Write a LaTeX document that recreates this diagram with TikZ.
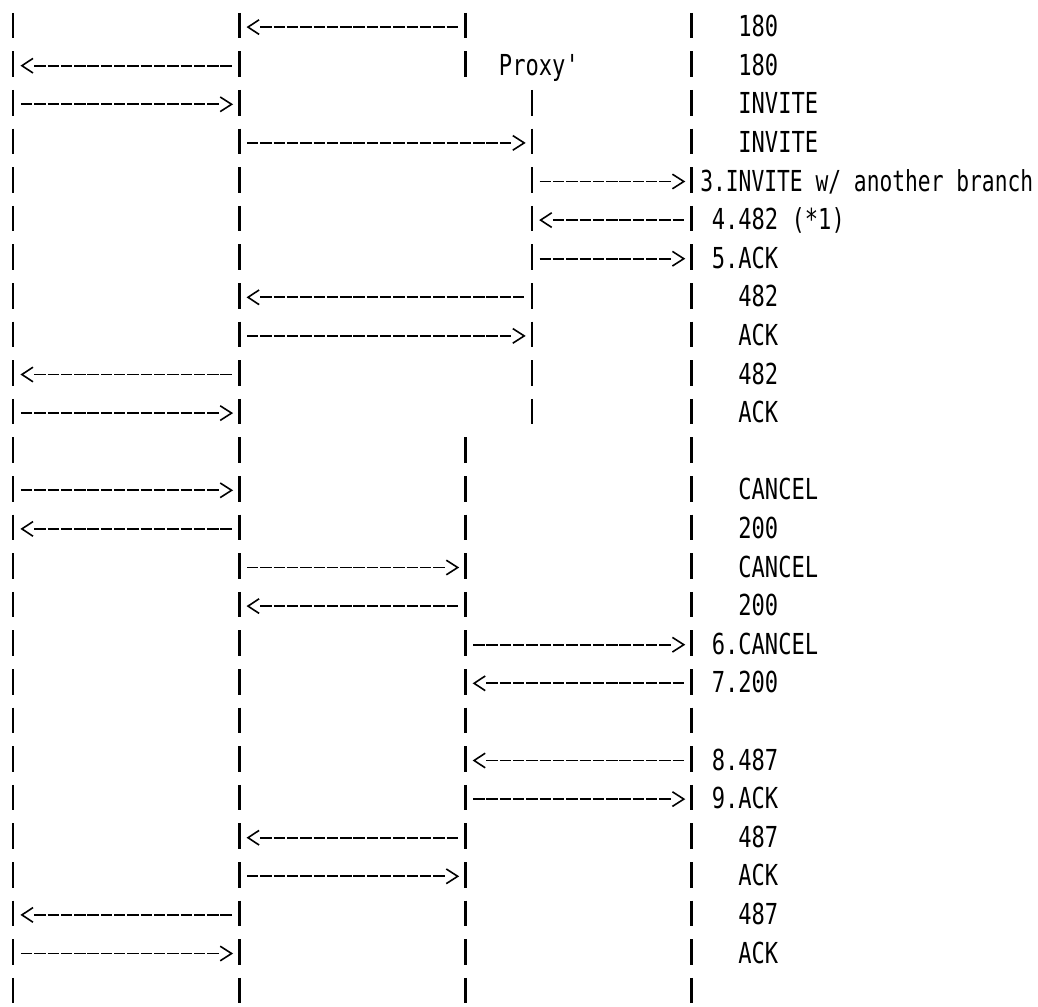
\documentclass[tikz,border=0pt]{standalone}
\usepackage{fontspec}
\newfontfamily\lblfont[FakeStretch=0.765,Ligatures=TeXOff]{DejaVu Sans Mono}
\usetikzlibrary{calc}
\newcommand\msgright[2]{%
  \draw[dashline] ($(#1)+(7.65,1.5)$) -- ($(#2)+(-20.85,1.5)$);
  \draw[chev] ($(#2)+(-19.2,-5.8)$) -- ($(#2)+(-7.8,1.5)$) -- ($(#2)+(-19.2,8.8)$);
}
\newcommand\msgleft[2]{%
  \draw[dashline] ($(#1)+(20.95,1.5)$) -- ($(#2)+(-7.6,1.5)$);
  \draw[chev] ($(#1)+(19.7,-5.8)$) -- ($(#1)+(8.6,1.5)$) -- ($(#1)+(19.7,8.8)$);
}
\begin{document}
\begin{tikzpicture}[x=1pt,y=-1pt,
  bar/.style={line width=2.3pt},
  dashline/.style={line width=1.8pt, dash pattern=on 11.4pt off 1.9pt},
  chev/.style={line width=1.6pt, line join=miter},
  lbl/.style={anchor=base west, inner sep=0pt, font=\lblfont\fontsize{28.9}{28.9}\selectfont}
]
\useasboundingbox (0,0) rectangle (1038,1006);
% lifeline positions per row
\foreach \r in {1,...,26} {
  \pgfmathsetmacro\yy{25.6+38.6*(\r-1)}
  \foreach \n/\k in {A/0,B/17,C/34,E/39,D/51} {
    \coordinate (\n\r) at ({13.3*(\k+1)},\yy);
  }
}
% bars
\foreach \r in {1,2,12,13,...,26} {
  \foreach \n in {A,B,C,D} {
    \draw[bar] ($(\n\r)+(0,-12.8)$) -- ($(\n\r)+(0,12.8)$);
  }
}
\foreach \r in {3,...,11} {
  \foreach \n in {A,B,E,D} {
    \draw[bar] ($(\n\r)+(0,-12.8)$) -- ($(\n\r)+(0,12.8)$);
  }
}
% messages
\msgleft{B1}{C1}
\msgleft{A2}{B2}
\msgright{A3}{B3}
\msgright{B4}{E4}
\msgright{E5}{D5}
\msgleft{E6}{D6}
\msgright{E7}{D7}
\msgleft{B8}{E8}
\msgright{B9}{E9}
\msgleft{A10}{B10}
\msgright{A11}{B11}
\msgright{A13}{B13}
\msgleft{A14}{B14}
\msgright{B15}{C15}
\msgleft{B16}{C16}
\msgright{C17}{D17}
\msgleft{C18}{D18}
\msgleft{C20}{D20}
\msgright{C21}{D21}
\msgleft{B22}{C22}
\msgright{B23}{C23}
\msgleft{A24}{B24}
\msgright{A25}{B25}
% proxy label
\node[lbl] (proxy) at ($(C2)+(33.25,11)$) {Proxy'};
% labels
\foreach \r/\t in {1/180,2/180,3/INVITE,4/INVITE,8/482,9/ACK,10/482,11/ACK,
  13/CANCEL,14/200,15/CANCEL,16/200,22/487,23/ACK,24/487,25/ACK} {
  \node[lbl] (t\r) at ($(D\r)+(46.55,11)$) {\t};
}
\foreach \r/\t in {6/4.482 (*1),7/5.ACK,17/6.CANCEL,18/7.200,20/8.487,21/9.ACK} {
  \node[lbl] (t\r) at ($(D\r)+(19.95,11)$) {\t};
}
\node[lbl] (t5) at ($(D5)+(8.5,11)$) {\scalebox{0.962}[1]{3.INVITE w/ another branch}};
\end{tikzpicture}
\end{document}
